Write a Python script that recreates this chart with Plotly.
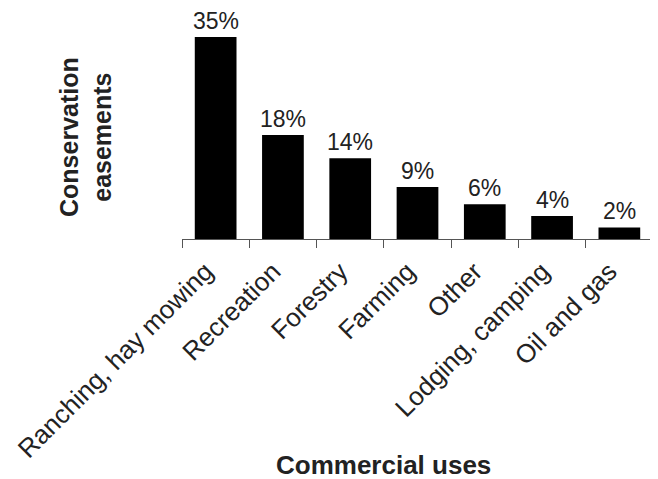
import plotly.graph_objects as go

categories = ["Ranching, hay mowing", "Recreation", "Forestry", "Farming",
              "Other", "Lodging, camping", "Oil and gas"]
values = [35, 18, 14, 9, 6, 4, 2]
labels = ["35%", "18%", "14%", "9%", "6%", "4%", "2%"]
x_title = "Commercial uses"
y_title = "Conservation<br>easements"

FONT = "Liberation Sans, Arial, sans-serif"
OFF = 8  # page body margin
W, H = 658 - OFF, 479 - OFF
L, R, T, B = 174, 5, 29, 240
pw, ph = W - L - R, H - T - B

def px_x(p):
    return (p - OFF - L) / pw

def px_y(p):
    return (H - B - (p - OFF)) / ph

fig = go.Figure(go.Bar(
    x=categories, y=values,
    marker=dict(color="black", line=dict(width=0)),
    width=0.62,
))

for c, v, t in zip(categories, values, labels):
    fig.add_annotation(x=c, y=v, text=t, showarrow=False, yanchor="bottom",
                       yshift=2, borderpad=0,
                       font=dict(family=FONT, size=23, color="#222"))

fig.add_annotation(xref="paper", yref="paper", x=px_x(383), y=px_y(465),
                   text="<b>" + x_title + "</b>", showarrow=False,
                   xanchor="center", yanchor="middle", borderpad=0,
                   font=dict(family=FONT, size=26, color="#222"))
fig.add_annotation(xref="paper", yref="paper", x=px_x(85), y=px_y(137),
                   text="<b>" + y_title + "</b>", showarrow=False, textangle=-90,
                   xanchor="center", yanchor="middle",
                   font=dict(family=FONT, size=25, color="#222"))

fig.update_layout(
    width=W, height=H,
    margin=dict(l=L, r=R, t=T, b=B),
    paper_bgcolor="white", plot_bgcolor="white",
    showlegend=False,
)
fig.update_xaxes(
    showline=True, linecolor="#555", linewidth=1,
    ticks="outside", tickson="boundaries", ticklen=8, tickcolor="#555",
    tickangle=-45, tickfont=dict(family=FONT, size=26, color="#222"),
    ticklabelshift=-10, ticklabelstandoff=6,
    showgrid=False, range=[-0.5, 6.5],
)
fig.update_yaxes(visible=False, range=[0, 35])

fig.write_html("out.html")
